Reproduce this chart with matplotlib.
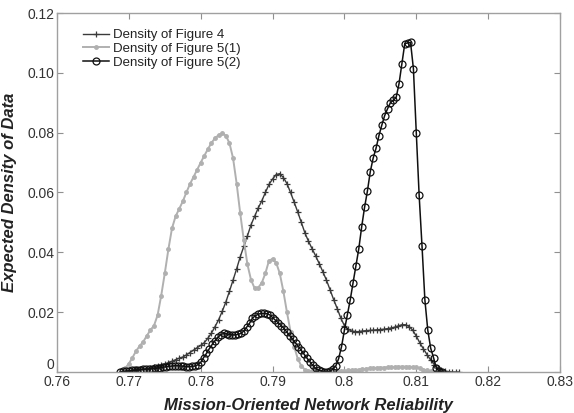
import matplotlib
matplotlib.use("Agg")
import matplotlib.pyplot as plt
import numpy as np

# Density of Figure 4 (step 0.0005 starting at 0.7695)
f4_start, f4_step = 0.7695, 0.0005
f4_y = [0.0000, 0.0003, 0.0006, 0.0008, 0.0009, 0.0010, 0.0011, 0.0013, 0.0016, 0.0019,
        0.0023, 0.0027, 0.0031, 0.0036, 0.0041, 0.0046, 0.0050, 0.0057, 0.0065, 0.0073,
        0.0081, 0.0089, 0.0098, 0.0113, 0.0130, 0.0152, 0.0175, 0.0203, 0.0234, 0.0270,
        0.0307, 0.0345, 0.0385, 0.0420, 0.0455, 0.0492, 0.0520, 0.0548, 0.0572, 0.0600,
        0.0627, 0.0645, 0.0660, 0.0663, 0.0650, 0.0630, 0.0600, 0.0568, 0.0535, 0.0500,
        0.0465, 0.0437, 0.0412, 0.0388, 0.0362, 0.0335, 0.0307, 0.0275, 0.0242, 0.0212,
        0.0180, 0.0155, 0.0143, 0.0137, 0.0135, 0.0135, 0.0137, 0.0138, 0.0139, 0.0140,
        0.0141, 0.0142, 0.0143, 0.0145, 0.0147, 0.0150, 0.0154, 0.0158, 0.0158, 0.0152,
        0.0140, 0.0120, 0.0097, 0.0077, 0.0058, 0.0040, 0.0025, 0.0014, 0.0007, 0.0003,
        0.0001, 0.0000, 0.0000, 0.0000]

# Density of Figure 5(1) (step 0.0005 starting at 0.7690)
f51_start, f51_step = 0.7690, 0.0005
f51_y = [0.0000, 0.0013, 0.0028, 0.0048, 0.0070, 0.0087, 0.0101, 0.0121, 0.0140, 0.0155,
         0.0190, 0.0255, 0.0330, 0.0410, 0.0480, 0.0520, 0.0545, 0.0570, 0.0600, 0.0628,
         0.0652, 0.0676, 0.0700, 0.0723, 0.0745, 0.0766, 0.0782, 0.0792, 0.0798, 0.0790,
         0.0765, 0.0715, 0.0630, 0.0530, 0.0440, 0.0360, 0.0308, 0.0280, 0.0282, 0.0298,
         0.0330, 0.0372, 0.0378, 0.0365, 0.0330, 0.0270, 0.0200, 0.0135, 0.0085, 0.0045,
         0.0020, 0.0008, 0.0004, 0.0003, 0.0002, 0.0002, 0.0002, 0.0002, 0.0002, 0.0002,
         0.0003, 0.0003, 0.0004, 0.0005, 0.0006, 0.0007, 0.0008, 0.0009, 0.0011, 0.0012,
         0.0013, 0.0014, 0.0015, 0.0015, 0.0016, 0.0016, 0.0017, 0.0018, 0.0018, 0.0018,
         0.0017, 0.0017, 0.0016, 0.0012, 0.0008, 0.0005, 0.0002, 0.0000]

# Density of Figure 5(2) (step 0.0004 starting at 0.7688)
f52_start, f52_step = 0.7688, 0.0004
f52_y = [0.0000, 0.0002, 0.0003, 0.0004, 0.0005, 0.0006, 0.0007, 0.0008, 0.0009, 0.0010,
         0.0010, 0.0011, 0.0012, 0.0013, 0.0014, 0.0016, 0.0018, 0.0019, 0.0020, 0.0021,
         0.0021, 0.0020, 0.0019, 0.0018, 0.0018, 0.0019, 0.0020, 0.0024, 0.0032, 0.0048,
         0.0062, 0.0078, 0.0092, 0.0105, 0.0116, 0.0125, 0.0129, 0.0128, 0.0125, 0.0124,
         0.0124, 0.0126, 0.0129, 0.0137, 0.0150, 0.0163, 0.0180, 0.0188, 0.0193, 0.0196,
         0.0196, 0.0195, 0.0191, 0.0182, 0.0173, 0.0164, 0.0155, 0.0145, 0.0133, 0.0121,
         0.0109, 0.0097, 0.0085, 0.0072, 0.0059, 0.0046, 0.0034, 0.0022, 0.0012, 0.0006,
         0.0003, 0.0001, 0.0001, 0.0003, 0.0010, 0.0020, 0.0045, 0.0085, 0.0140, 0.0190,
         0.0240, 0.0298, 0.0355, 0.0412, 0.0485, 0.0550, 0.0605, 0.0670, 0.0715, 0.0748,
         0.0790, 0.0825, 0.0857, 0.0880, 0.0900, 0.0908, 0.0918, 0.0964, 0.1031, 0.1098,
         0.1100, 0.1102, 0.1014, 0.0800, 0.0590, 0.0420, 0.0240, 0.0140, 0.0080, 0.0048,
         0.0012, 0.0002, 0.0000]

x_ticks = [0.76, 0.77, 0.78, 0.79, 0.80, 0.81, 0.82, 0.83]
x_tick_labels = ["0.76", "0.77", "0.78", "0.79", "0.8", "0.81", "0.82", "0.83"]
y_ticks = [0, 0.02, 0.04, 0.06, 0.08, 0.10, 0.12]
y_tick_labels = ["0", "0.02", "0.04", "0.06", "0.08", "0.10", "0.12"]


def grid(start, step, n):
    return start + step * np.arange(n)


def main():
    plt.rcParams["font.family"] = ["Liberation Sans", "DejaVu Sans"]
    fig = plt.figure(figsize=(5.74, 4.13), dpi=100)
    ax = fig.add_axes([0.0993, 0.0993, 0.8763, 0.8692])

    ax.plot(grid(f4_start, f4_step, len(f4_y)), f4_y, "-", color="#3a3a3a", lw=1.0,
            marker="+", ms=5, mew=0.9, label="Density of Figure 4")
    ax.plot(grid(f51_start, f51_step, len(f51_y)), f51_y, "-", color="#b0b0b0", lw=1.4,
            marker=".", ms=5, label="Density of Figure 5(1)")
    ax.plot(grid(f52_start, f52_step, len(f52_y)), f52_y, "-", color="#101010", lw=1.1,
            marker="o", ms=5, mfc="none", mew=0.9, label="Density of Figure 5(2)")

    ax.set_xlim(0.76, 0.83)
    ax.set_ylim(0, 0.12)
    ax.set_xticks(x_ticks)
    ax.set_xticklabels(x_tick_labels)
    ax.set_yticks(y_ticks)
    ax.set_yticklabels(y_tick_labels)
    ax.tick_params(which="both", direction="in", top=True, right=True,
                   labelsize=10, colors="#333333", length=4, pad=2)
    ax.tick_params(axis="both", color="#909090")
    ax.get_yticklabels()[0].set_verticalalignment("bottom")
    for s in ax.spines.values():
        s.set_color("#a0a0a0")
        s.set_linewidth(1.0)

    ax.set_xlabel("Mission-Oriented Network Reliability", fontsize=12,
                  fontweight="bold", fontstyle="italic", color="#222222", labelpad=7)
    ax.set_ylabel("Expected Density of Data", fontsize=12,
                  fontweight="bold", fontstyle="italic", color="#222222", labelpad=7)

    leg = ax.legend(loc="upper left", bbox_to_anchor=(0.03, 0.985), frameon=False,
                    fontsize=9.5, handlelength=2.0, handletextpad=0.3,
                    labelspacing=0.12, borderpad=0.3)
    for t in leg.get_texts():
        t.set_color("#222222")

    fig.savefig("out.png", dpi=100)


if __name__ == "__main__":
    main()
